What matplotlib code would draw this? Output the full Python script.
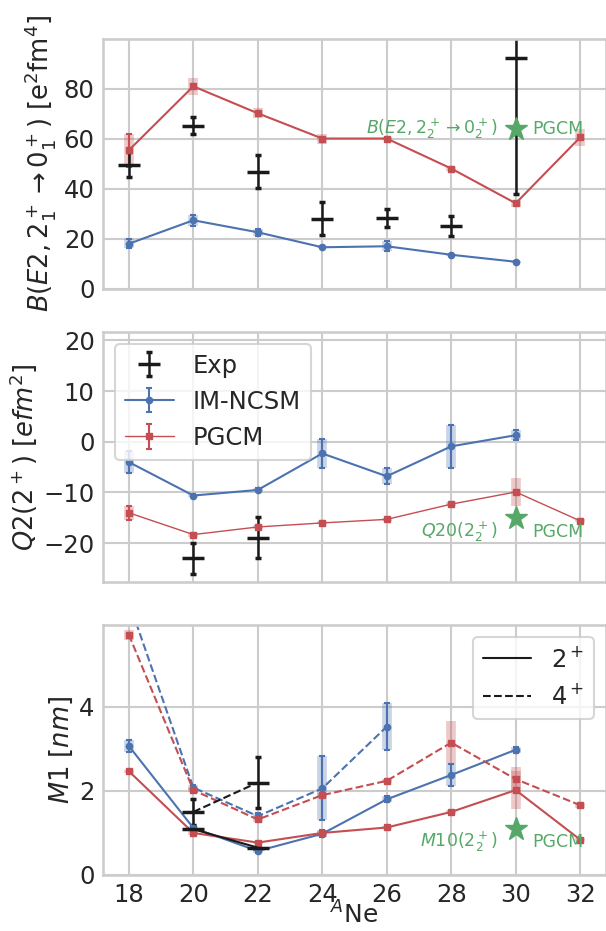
import numpy as np
import matplotlib.pyplot as plt
import seaborn as sns

sns.set_theme(style='whitegrid', context='talk')

A_th = [18, 20, 22, 24, 26, 28, 30, 32]
A_ncsm = [18, 20, 22, 24, 26, 28, 30]
A_exp = [18, 20, 22, 24, 26, 28, 30]

# B(E2) 2+ -> 0+
be2_ncsm = [17.9, 27.3, 22.5, 16.5, 16.9, 13.5, 10.7]
be2_ncsm_err = [1.8, 2.3, 1.5, 0.4, 2.0, 0.4, 0.4]
be2_pgcm = [55.3, 80.9, 70.1, 60.0, 60.0, 48.0, 34.1, 60.5]
be2_pgcm_err = [6.6, 0.5, 0.5, 0.5, 0.5, 0.5, 0.5, 0.5]
be2_pgcm_band = [6.6, 3.3, 2.0, 2.0, 0.6, 0.8, 1.5, 3.5]
be2_exp = [49.6, 65.1, 46.8, 27.9, 28.1, 25.1, 92.1]
be2_exp_err = [5.1, 3.4, 6.7, 6.6, 3.6, 4.1, 54.2]
be2_star = 63.9

# Q2(2+)
q2_ncsm = [-4.0, -10.6, -9.5, -2.3, -6.8, -0.9, 1.3]
q2_ncsm_err = [2.1, 0.3, 0.3, 2.9, 1.6, 4.3, 1.0]
q2_pgcm = [-14.0, -18.3, -16.8, -16.0, -15.3, -12.3, -9.9, -15.6]
q2_pgcm_err = [1.4, 0.3, 0.3, 0.3, 0.3, 0.3, 0.3, 0.3]
q2_pgcm_band = [1.4, 0.4, 0.4, 0.3, 0.3, 0.4, 2.8, 0.3]
A_q2_exp = [20, 22]
q2_exp = [-23.0, -18.9]
q2_exp_err = [3.1, 4.1]
q2_star = -15.1

# M1 moments
m1_2_ncsm = [3.07, 1.12, 0.57, 0.98, 1.80, 2.38, 2.98]
m1_2_ncsm_err = [0.15, 0.05, 0.04, 0.08, 0.07, 0.27, 0.07]
A_m1_4_ncsm = [18, 20, 22, 24, 26]
m1_4_ncsm = [6.5, 2.08, 1.40, 2.06, 3.53]
m1_4_ncsm_err = [0.2, 0.05, 0.07, 0.76, 0.56]
m1_2_pgcm = [2.47, 1.0, 0.77, 1.0, 1.13, 1.5, 2.02, 0.84]
m1_2_pgcm_band = [0.04, 0.04, 0.04, 0.04, 0.04, 0.04, 0.45, 0.04]
m1_4_pgcm = [5.72, 2.02, 1.32, 1.9, 2.24, 3.15, 2.28, 1.66]
m1_4_pgcm_band = [0.12, 0.05, 0.05, 0.05, 0.05, 0.52, 0.3, 0.06]
A_m1_exp = [20, 22]
m1_2_exp = [1.09, 0.65]
m1_2_exp_err = [0.07, 0.03]
m1_4_exp = [1.5, 2.2]
m1_4_exp_err = [0.31, 0.6]
m1_star = 1.1

blue = '#4C72B0'
red = '#C44E52'
green = '#55A868'

fig, axes = plt.subplots(3, 1, figsize=(6.06, 9.31), dpi=100, sharex=True)
fig.subplots_adjust(left=0.17, right=1.0, top=0.9586, bottom=0.0602, hspace=0.173)


def model(ax, x, y, err, color, marker, ls='-', lw=1.5, band=None, label=None):
    if band is not None:
        ax.errorbar(x, y, yerr=band, fmt='none', ecolor=color, elinewidth=7, alpha=0.3)
    return ax.errorbar(x, y, yerr=err, fmt=marker, ls=ls, color=color, lw=lw, ms=4.5,
                       capsize=2.5, elinewidth=1.5, capthick=1.5, label=label)


def exp(ax, x, y, err, ls='none', label=None):
    return ax.errorbar(x, y, yerr=err, fmt='_', ls=ls, color='k', ms=16, mew=2.5, lw=1.5,
                       capsize=2.5, elinewidth=1.8, capthick=2.5, label=label)


# top panel
ax = axes[0]
model(ax, A_ncsm, be2_ncsm, be2_ncsm_err, blue, 'o', band=be2_ncsm_err)
model(ax, A_th, be2_pgcm, be2_pgcm_err, red, 's', band=be2_pgcm_band)
exp(ax, A_exp, be2_exp, be2_exp_err)
ax.plot(30, be2_star, '*', color=green, ms=17)
ax.text(29.45, be2_star, r'$B(E2,2_2^+\rightarrow 0_2^+)$', color=green, fontsize=12.5,
        ha='right', va='center')
ax.text(30.5, be2_star, 'PGCM', color=green, fontsize=12.5, ha='left', va='center')
ax.set_ylim(0, 100)
ax.set_yticks([0, 20, 40, 60, 80])
ax.set_ylabel(r'$B(E2,2_1^+\rightarrow 0_1^+)$ [e$^2$fm$^4$]', fontsize=18.5, labelpad=4)

# middle panel
ax = axes[1]
h_exp = exp(ax, A_q2_exp, q2_exp, q2_exp_err, label='Exp')
h_ncsm = model(ax, A_ncsm, q2_ncsm, q2_ncsm_err, blue, 'o', band=q2_ncsm_err, label='IM-NCSM')
h_pgcm = model(ax, A_th, q2_pgcm, q2_pgcm_err, red, 's', lw=1.0, band=q2_pgcm_band, label='PGCM')
ax.plot(30, q2_star, '*', color=green, ms=17)
ax.text(29.45, -17.7, r'$Q20(2_2^+)$', color=green, fontsize=12.5, ha='right', va='center')
ax.text(30.5, -17.7, 'PGCM', color=green, fontsize=12.5, ha='left', va='center')
ax.set_ylim(-27.6, 21.7)
ax.set_yticks([-20, -10, 0, 10, 20])
ax.set_ylabel(r'$Q2(2^+)$ $[efm^2]$', fontsize=18.5, labelpad=3)
ax.legend(handles=[h_exp, h_ncsm, h_pgcm], loc='upper left', fontsize=17.5)

# bottom panel
ax = axes[2]
model(ax, A_ncsm, m1_2_ncsm, m1_2_ncsm_err, blue, 'o', band=m1_2_ncsm_err)
model(ax, A_m1_4_ncsm, m1_4_ncsm, m1_4_ncsm_err, blue, 'o', ls='--', band=m1_4_ncsm_err)
model(ax, A_th, m1_2_pgcm, None, red, 's', band=m1_2_pgcm_band)
model(ax, A_th, m1_4_pgcm, None, red, 's', ls='--', band=m1_4_pgcm_band)
exp(ax, A_m1_exp, m1_2_exp, m1_2_exp_err, ls='-')
exp(ax, A_m1_exp, m1_4_exp, m1_4_exp_err, ls='--')
ax.plot(30, m1_star, '*', color=green, ms=17)
ax.text(29.45, 0.79, r'$M10(2_2^+)$', color=green, fontsize=12.5, ha='right', va='center')
ax.text(30.5, 0.79, 'PGCM', color=green, fontsize=12.5, ha='left', va='center')
ax.set_ylim(0, 5.95)
ax.set_yticks([0, 2, 4])
ax.set_ylabel(r'$M1$ $[nm]$', fontsize=18.5, labelpad=3)
l2, = ax.plot([], [], 'k-', lw=1.5, label=r'$2^+$')
l4, = ax.plot([], [], 'k--', lw=1.5, label=r'$4^+$')
ax.legend(handles=[l2, l4], loc='upper right', fontsize=17.5)

ax.set_xlim(17.2, 32.8)
ax.set_xticks(A_th)
ax.set_xlabel(r'$^A$Ne', fontsize=18, labelpad=-4)

for a in axes:
    a.tick_params(axis='both', length=0, pad=6, labelsize=17.5)

fig.savefig('out.png', dpi=100)
